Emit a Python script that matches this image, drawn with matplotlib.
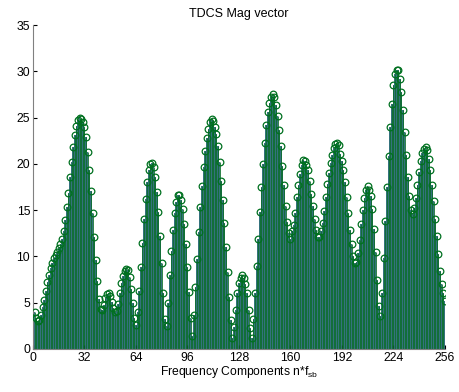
import numpy as np
import matplotlib
matplotlib.use("Agg")
import matplotlib.pyplot as plt

plt.rcParams['font.family'] = ['Liberation Sans', 'DejaVu Sans']

# magnitude of each frequency component, n = 1..256
mag = [
    4.0, 3.3, 3.0, 3.1, 3.7, 4.5, 5.3, 6.3, 7.2, 8.0,
    8.7, 9.3, 9.8, 10.2, 10.5, 10.9, 11.3, 11.9, 12.7, 13.9,
    15.3, 16.9, 18.6, 20.2, 21.8, 23.1, 24.1, 24.7, 25.0, 24.9,
    24.5, 24.0, 22.9, 21.3, 19.3, 17.1, 14.7, 12.1, 9.6, 7.3,
    5.4, 4.3, 4.2, 4.8, 5.5, 5.9, 6.0, 5.7, 5.1, 4.4,
    4.0, 4.1, 4.9, 6.1, 7.1, 7.9, 8.4, 8.6, 8.5, 7.8,
    6.5, 5.0, 3.4, 2.6, 4.0, 6.3, 8.9, 11.5, 14.0, 16.2,
    18.0, 19.3, 20.0, 20.1, 19.7, 18.6, 17.0, 14.8, 12.2, 9.3,
    6.1, 3.2, 2.5, 5.0, 8.0, 10.6, 12.9, 14.7, 15.9, 16.6,
    16.6, 16.1, 15.1, 13.5, 11.3, 8.9, 6.2, 3.3, 1.4, 3.7,
    6.7, 9.7, 12.6, 15.3, 17.6, 19.7, 21.4, 22.8, 23.8, 24.5,
    24.8, 24.6, 24.0, 23.2, 21.9, 20.2, 18.2, 16.1, 13.6, 11.0,
    8.3, 5.6, 3.1, 1.2, 2.4, 4.2, 6.0, 7.1, 7.7, 8.0,
    7.7, 7.0, 6.0, 4.2, 2.3, 1.2, 3.2, 6.1, 9.0, 11.9,
    14.8, 17.5, 20.0, 22.3, 24.2, 25.6, 26.6, 27.2, 27.5, 27.2,
    26.4, 25.2, 23.7, 21.9, 19.8, 17.7, 15.5, 13.7, 12.5, 11.9,
    12.7, 13.4, 14.7, 16.4, 17.7, 18.9, 19.9, 20.4, 20.3, 19.9,
    19.3, 18.1, 16.8, 15.4, 14.0, 12.9, 12.1, 12.1, 12.7, 13.6,
    14.9, 16.4, 17.8, 19.0, 20.1, 21.0, 21.7, 22.2, 22.3, 22.0,
    21.1, 20.3, 19.3, 18.0, 16.4, 14.7, 12.9, 11.3, 10.0, 9.3,
    9.4, 10.4, 11.8, 13.5, 15.0, 16.3, 17.2, 17.6, 17.2, 16.5,
    15.1, 13.0, 10.5, 7.5, 4.7, 3.6, 6.1, 9.8, 13.8, 17.5,
    20.9, 24.0, 26.5, 28.5, 29.7, 30.2, 30.1, 29.2, 27.8, 25.8,
    23.5, 21.0, 18.6, 16.5, 15.0, 14.6, 15.2, 16.3, 17.7, 19.1,
    20.3, 21.2, 21.6, 21.8, 21.5, 20.5, 19.3, 17.7, 16.0, 14.1,
    12.2, 10.3, 8.4, 7.0, 6.0, 5.2,
]
n = np.arange(1, len(mag) + 1)

xticks = [0, 32, 64, 96, 128, 160, 192, 224, 256]
yticks = [0, 5, 10, 15, 20, 25, 30, 35]

fig = plt.figure(figsize=(4.6, 3.92), dpi=100)
ax = fig.add_axes([0.0717, 0.1097, 0.8953, 0.8263])

# bar + stem overlay, like the matlab figure
ax.bar(n, mag, width=1.0, color='#34727c', edgecolor='none', zorder=1)
markerline, stemlines, baseline = ax.stem(n, mag, basefmt=' ')
plt.setp(stemlines, color='#0c6e2c', linewidth=0.6, zorder=2)
plt.setp(markerline, marker='o', markersize=4.8, markerfacecolor='none',
         markeredgecolor='#007020', markeredgewidth=0.9, zorder=3)

ax.set_xlim(0, 256)
ax.set_ylim(0, 35)
ax.set_xticks(xticks)
ax.set_yticks(yticks)
ax.tick_params(direction='in', length=3, labelsize=8.8, colors='black', pad=2)
for side in ['top', 'right']:
    ax.spines[side].set_visible(False)
for side in ['left', 'bottom']:
    ax.spines[side].set_color('#808080')
    ax.spines[side].set_linewidth(0.8)

ax.set_title('TDCS Mag vector', fontsize=9, pad=6)
ax.set_xlabel('Frequency Components n*f$_{\\mathregular{sb}}$', fontsize=8.7, labelpad=0)

fig.savefig('out.png', dpi=100)
